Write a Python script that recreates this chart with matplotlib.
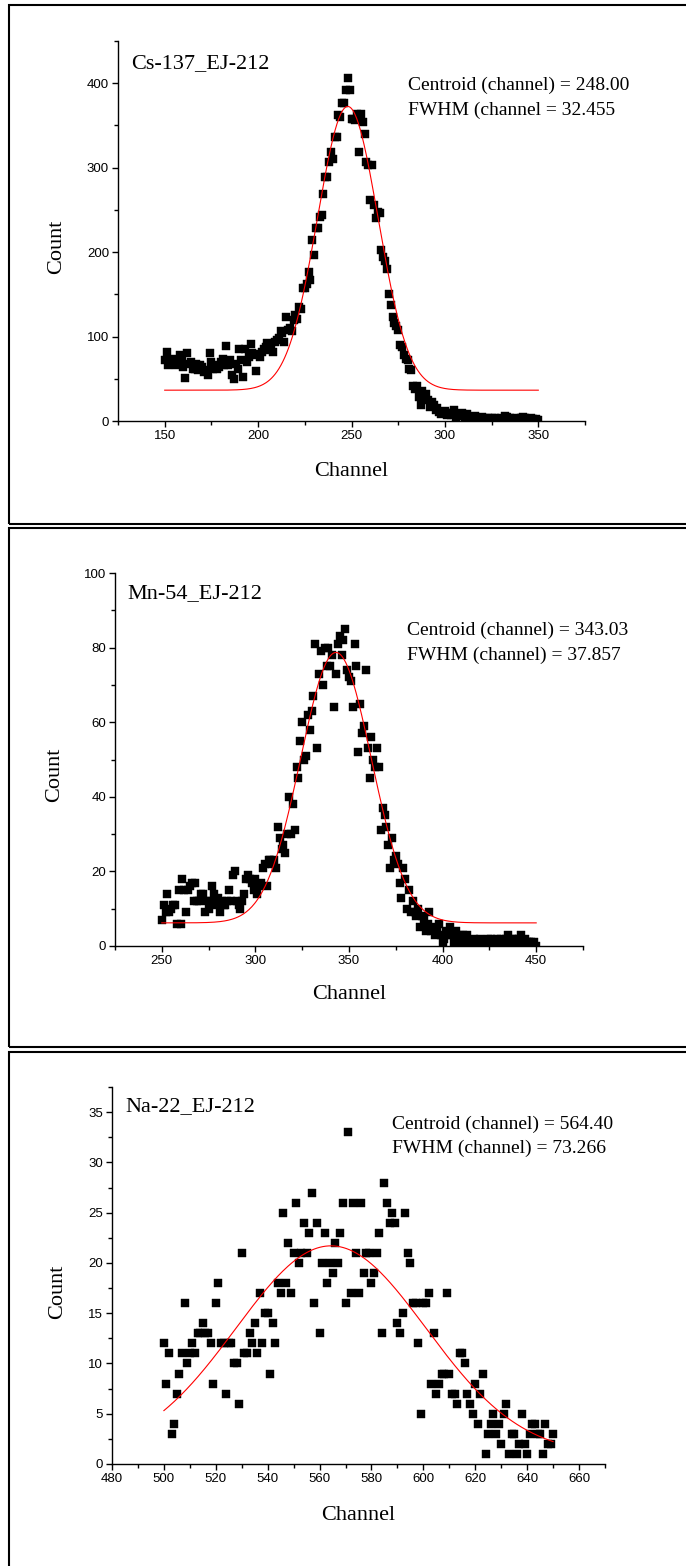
import matplotlib.pyplot as plt
import matplotlib.patches as patches
import numpy as np

plt.rcParams['font.family'] = ['Liberation Sans', 'DejaVu Sans']

# Cs-137 spectrum, one point per channel 150..350
cs_channel = np.arange(150, 351)
cs_count = [72, 82, 66, 70, 74, 68, 66, 72, 78, 74,
            64, 51, 80, 68, 70, 62, 62, 68, 60, 66,
            64, 58, 60, 54, 81, 70, 62, 66, 62, 64,
            70, 74, 66, 89, 66, 72, 54, 50, 68, 62,
            85, 72, 52, 85, 70, 76, 91, 80, 78, 59,
            79, 76, 82, 85, 88, 92, 84, 90, 82, 94,
            96, 98, 106, 104, 94, 123, 108, 110, 106, 120,
            126, 121, 135, 133, 157, 157, 162, 177, 167, 214,
            196, 228, 228, 242, 244, 269, 289, 289, 307, 319,
            310, 336, 336, 362, 360, 377, 377, 392, 406, 392,
            358, 358, 356, 364, 319, 363, 354, 340, 307, 303,
            262, 303, 256, 240, 248, 246, 202, 194, 190, 180,
            150, 137, 123, 116, 112, 108, 90, 88, 78, 74,
            72, 62, 60, 41, 38, 41, 29, 19, 36, 27,
            32, 25, 17, 22, 19, 13, 15, 11, 8, 9,
            12, 7, 9, 7, 10, 13, 5, 8, 6, 10,
            7, 4, 8, 3, 5, 2, 6, 3, 4, 2,
            5, 3, 2, 4, 1, 3, 2, 4, 1, 2,
            3, 2, 6, 5, 2, 3, 1, 2, 4, 1,
            2, 3, 5, 4, 2, 1, 3, 2, 1, 2,
            1]

# Mn-54 spectrum, channels 250..450
mn_channel = np.arange(250, 451)
mn_count = [7, 11, 9, 14, 9, 10, 11, 11, 6, 15,
            6, 18, 15, 9, 15, 16, 17, 12, 17, 12,
            12, 14, 14, 9, 12, 10, 12, 16, 14, 11,
            13, 9, 12, 11, 11, 12, 15, 12, 19, 20,
            12, 11, 10, 12, 14, 18, 19, 18, 17, 15,
            18, 14, 16, 17, 21, 22, 16, 23, 23, 22,
            23, 21, 32, 29, 26, 27, 25, 30, 40, 30,
            38, 31, 48, 45, 55, 60, 50, 51, 62, 58,
            63, 67, 81, 53, 73, 79, 70, 80, 75, 80,
            75, 78, 64, 73, 81, 83, 78, 82, 85, 74,
            72, 71, 64, 81, 75, 52, 65, 57, 59, 74,
            53, 45, 56, 50, 48, 53, 48, 31, 37, 35,
            32, 27, 21, 29, 23, 24, 22, 17, 13, 21,
            18, 10, 15, 9, 12, 9, 8, 10, 5, 8,
            7, 4, 6, 9, 4, 5, 3, 4, 6, 3,
            1, 2, 4, 3, 5, 3, 1, 4, 2, 3,
            1, 3, 2, 3, 1, 0, 1, 2, 1, 0,
            2, 1, 1, 0, 2, 1, 2, 0, 1, 2,
            1, 2, 1, 1, 2, 3, 1, 2, 1, 2,
            1, 2, 3, 1, 2, 1, 1, 1, 0, 1,
            0]

# Na-22 spectrum, channels 500..650
na_channel = np.arange(500, 651)
na_count = [12, 8, 11, 3, 4, 7, 9, 11, 16, 10,
            11, 12, 11, 13, 13, 14, 13, 13, 12, 8,
            16, 18, 12, 12, 7, 12, 12, 10, 10, 6,
            21, 11, 11, 13, 12, 14, 11, 17, 12, 15,
            15, 9, 14, 12, 18, 17, 25, 18, 22, 17,
            21, 26, 20, 21, 24, 21, 23, 27, 16, 24,
            13, 20, 23, 18, 20, 19, 22, 20, 23, 26,
            16, 33, 17, 26, 21, 17, 26, 19, 21, 21,
            18, 19, 21, 23, 13, 28, 26, 24, 25, 24,
            14, 13, 15, 25, 21, 20, 16, 16, 12, 5,
            16, 16, 17, 8, 13, 7, 8, 9, 9, 17,
            9, 7, 7, 6, 11, 11, 10, 7, 6, 5,
            8, 4, 7, 9, 1, 3, 4, 5, 3, 4,
            2, 5, 6, 1, 3, 3, 1, 2, 5, 2,
            1, 3, 4, 4, 3, 3, 1, 4, 2, 2,
            3]

# Gauss fit results: centroid, width w (=2 sigma), offset, peak height
cs_fit = (248.00, 32.455, 36.5, 336.0)
mn_fit = (343.03, 37.857, 6.2, 72.5)
na_fit = (564.40, 73.266, 0.87, 20.83)

names = ['Cs-137_EJ-212', 'Mn-54_EJ-212', 'Na-22_EJ-212']
fit_texts = [('Centroid (channel) = 248.00', 'FWHM (channel = 32.455'),
             ('Centroid (channel) = 343.03', 'FWHM (channel) = 37.857'),
             ('Centroid (channel) = 564.40', 'FWHM (channel) = 73.266')]

W, H = 686, 1566
fig = plt.figure(figsize=(W / 100, H / 100), dpi=100)


def px_axes(left, right, top, bottom):
    return fig.add_axes([left / W, 1 - bottom / H, (right - left) / W, (bottom - top) / H])


def panel(ax, x, y, fit, xlim, ylim, xmaj, xmin, ymaj, ymin):
    ax.plot(x, y, 's', color='black', markersize=5.3, markeredgewidth=0.3, zorder=2)
    xc, w, y0, h = fit
    xf = np.linspace(x[0], x[-1], 400)
    ax.plot(xf, y0 + h * np.exp(-2 * ((xf - xc) / w) ** 2), color='red', lw=0.8, zorder=3)
    ax.set_xlim(*xlim)
    ax.set_ylim(*ylim)
    ax.set_xticks(np.arange(xmaj[0], xmaj[1] + 1e-9, xmaj[2]))
    ax.set_xticks(np.arange(xmin[0], xmin[1] + 1e-9, xmin[2]), minor=True)
    ax.set_yticks(np.arange(ymaj[0], ymaj[1] + 1e-9, ymaj[2]))
    ax.set_yticks(np.arange(ymin[0], ymin[1] + 1e-9, ymin[2]), minor=True)
    ax.spines['top'].set_visible(False)
    ax.spines['right'].set_visible(False)
    for s in ['left', 'bottom']:
        ax.spines[s].set_linewidth(1.0)
    ax.tick_params(which='major', direction='out', length=4.5, width=1.0, labelsize=9.5, pad=2)
    ax.tick_params(which='minor', direction='out', length=3, width=1.0)
    ax.patch.set_visible(False)


serif = ['Liberation Serif', 'DejaVu Serif']

# panel 1
ax1 = px_axes(118, 585, 41, 421)
panel(ax1, cs_channel, cs_count, cs_fit, (125, 375), (0, 450),
      (150, 350, 50), (125, 375, 25), (0, 400, 100), (0, 450, 50))
ax1.text(0.028, 0.94, names[0], transform=ax1.transAxes, family=serif, fontsize=16, va='center')
ax1.text(0.621, 0.882, fit_texts[0][0], transform=ax1.transAxes, family=serif, fontsize=14, va='center')
ax1.text(0.621, 0.818, fit_texts[0][1], transform=ax1.transAxes, family=serif, fontsize=14, va='center')
fig.text(57 / W, 1 - 247 / H, 'Count', family=serif, fontsize=16, rotation=90, ha='center', va='center')
fig.text(351 / W, 1 - 471 / H, 'Channel', family=serif, fontsize=16, ha='center', va='center')

# panel 2
ax2 = px_axes(115, 583, 573, 946)
panel(ax2, mn_channel, mn_count, mn_fit, (225, 475), (0, 100),
      (250, 450, 50), (225, 475, 25), (0, 100, 20), (0, 100, 10))
ax2.text(0.026, 0.944, names[1], transform=ax2.transAxes, family=serif, fontsize=16, va='center')
ax2.text(0.624, 0.845, fit_texts[1][0], transform=ax2.transAxes, family=serif, fontsize=14, va='center')
ax2.text(0.624, 0.780, fit_texts[1][1], transform=ax2.transAxes, family=serif, fontsize=14, va='center')
fig.text(55 / W, 1 - 775 / H, 'Count', family=serif, fontsize=16, rotation=90, ha='center', va='center')
fig.text(349 / W, 1 - 995 / H, 'Channel', family=serif, fontsize=16, ha='center', va='center')

# panel 3
ax3 = px_axes(112, 605, 1087, 1464)
panel(ax3, na_channel, na_count, na_fit, (480, 670), (0, 37.5),
      (480, 660, 20), (480, 670, 10), (0, 35, 5), (0, 37.5, 2.5))
ax3.text(0.028, 0.947, names[2], transform=ax3.transAxes, family=serif, fontsize=16, va='center')
ax3.text(0.567, 0.902, fit_texts[2][0], transform=ax3.transAxes, family=serif, fontsize=14, va='center')
ax3.text(0.567, 0.838, fit_texts[2][1], transform=ax3.transAxes, family=serif, fontsize=14, va='center')
fig.text(58 / W, 1 - 1292 / H, 'Count', family=serif, fontsize=16, rotation=90, ha='center', va='center')
fig.text(358 / W, 1 - 1515 / H, 'Channel', family=serif, fontsize=16, ha='center', va='center')

# frames around the three panels
for top, bottom in [(5, 524), (528, 1047), (1052, 1575)]:
    fig.add_artist(patches.Rectangle((9 / W, 1 - bottom / H), (700 - 9) / W, (bottom - top) / H,
                                     transform=fig.transFigure, fill=False, lw=1.5,
                                     edgecolor='black', clip_on=False))

fig.savefig('out.png', dpi=100)
